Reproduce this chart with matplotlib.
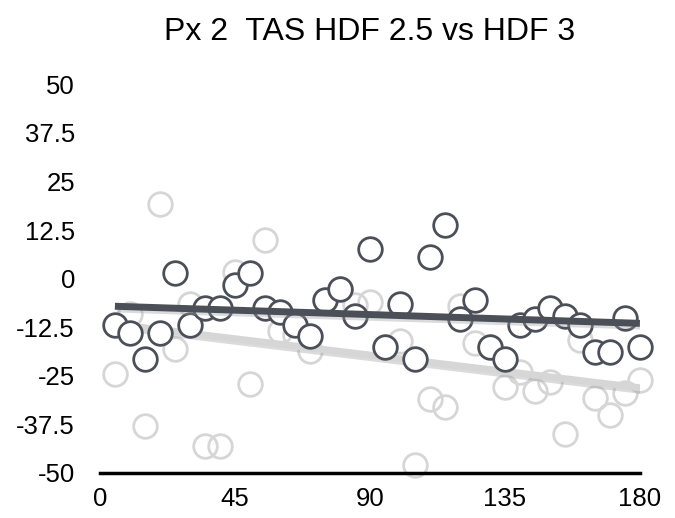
import numpy as np
import matplotlib.pyplot as plt
import matplotlib.patheffects as pe

plt.rcParams['font.family'] = ['Liberation Sans', 'DejaVu Sans']

# angle samples (shared by both series)
x = np.arange(5, 181, 5)

# HDF 2.5 (light grey)
hdf25 = [-24.5, -9, -38, 19.3, -18, -6.5, -43, -43, 1.8, -27,
         10, -13.5, -14.5, -18.5, -5.4, -2.6, -6.7, -6, -17.7, -16,
         -48, -31, -33, -7, -16.5, -17.7, -28, -24, -29, -26.5,
         -40, -15.7, -30.6, -35, -29.3, -26]

# HDF 3 (dark grey)
hdf3 = [-11.8, -13.9, -20.8, -13.9, 1.5, -11.8, -7.5, -7.5, -1.5, 1.5,
        -7.5, -8.7, -11.8, -14.7, -5.4, -2.6, -9.5, 7.7, -17.7, -6.4,
        -20.8, 5.7, 13.9, -10.5, -5.4, -17.7, -20.8, -11.8, -10.5, -7.5,
        -9.5, -11.8, -19, -19, -10, -17.7]

xticks = [0, 45, 90, 135, 180]
yticks = [50, 37.5, 25, 12.5, 0, -12.5, -25, -37.5, -50]
ytick_labels = ['50', '37.5', '25', '12.5', '0', '-12.5', '-25', '-37.5', '-50']

light = '#d6d6d6'
dark = '#4b5058'

fig = plt.figure(figsize=(6.75, 5.18), dpi=100)
ax = fig.add_axes([0.148, 0.087, 0.80, 0.75])

shadow = [pe.SimpleLineShadow(offset=(1.5, -2), shadow_color='#9a9a9a', alpha=0.35), pe.Normal()]

ax.plot(x, hdf25, 'o', ms=17, mfc='none', mec=light, mew=2, zorder=2, clip_on=False)
p = np.polyfit(x, hdf25, 1)
ax.plot([x[0], x[-1]], np.polyval(p, [x[0], x[-1]]), color=light, lw=5,
        solid_capstyle='butt', path_effects=shadow, zorder=3)

ax.plot(x, hdf3, 'o', ms=17, mfc='white', mec=dark, mew=2, zorder=4, clip_on=False)
p = np.polyfit(x, hdf3, 1)
ax.plot([x[0], x[-1]], np.polyval(p, [x[0], x[-1]]), color=dark, lw=5,
        solid_capstyle='butt', path_effects=shadow, zorder=5)

ax.set_xlim(0, 180)
ax.set_ylim(-50, 50)
ax.set_xticks(xticks)
ax.set_yticks(yticks)
ax.set_yticklabels(ytick_labels)
ax.tick_params(length=0, labelsize=18.5, pad=10)
ax.tick_params(axis='y', pad=18)
for s in ['top', 'right', 'left']:
    ax.spines[s].set_visible(False)
ax.spines['bottom'].set_linewidth(2.5)
ax.spines['bottom'].set_color('black')
ax.spines['bottom'].set_zorder(6)

fig.suptitle('Px 2  TAS HDF 2.5 vs HDF 3', x=0.548, y=0.967, fontsize=23)

fig.savefig('out.png', dpi=100)
